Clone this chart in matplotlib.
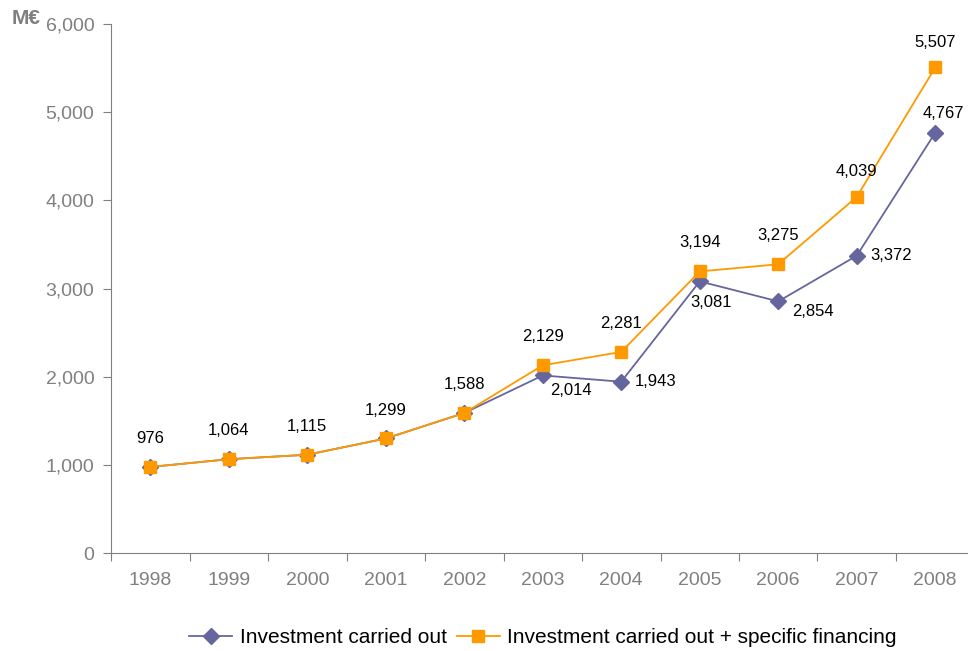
import matplotlib
matplotlib.use("Agg")
import matplotlib.pyplot as plt
from matplotlib.ticker import FuncFormatter, FixedLocator

years = ["1998", "1999", "2000", "2001", "2002", "2003", "2004", "2005", "2006", "2007", "2008"]
invest = [976, 1064, 1115, 1299, 1588, 2014, 1943, 3081, 2854, 3372, 4767]
invest_fin = [976, 1064, 1115, 1299, 1588, 2129, 2281, 3194, 3275, 4039, 5507]

# label offsets in points (dx, dy)
purple_offsets = {5: (20, -11), 6: (25, 0), 7: (8, -15), 8: (25, -7), 9: (25, 0), 10: (6, 14)}
orange_offsets = {9: (0, 18), 10: (0, 18)}

purple = "#66669E"
orange = "#FF9900"
gray = "#808080"

plt.rcParams["font.family"] = ["Liberation Sans", "DejaVu Sans"]

fig = plt.figure(figsize=(9.68, 6.51), dpi=100)
ax = fig.add_axes([0.1147, 0.1505, 0.892, 0.8126])

x = list(range(len(years)))
ax.plot(x, invest, color=purple, marker="D", markersize=8, lw=1.3,
        label="Investment carried out")
ax.plot(x, invest_fin, color=orange, marker="s", markersize=8, lw=1.3,
        label="Investment carried out + specific financing")

fmt = lambda v: f"{v:,}"
for i, v in enumerate(invest_fin):
    ax.annotate(fmt(v), (i, v), xytext=orange_offsets.get(i, (0, 20.5)), textcoords="offset points",
                ha="center", va="center", fontsize=12, color="black")
for i, v in enumerate(invest):
    if i in purple_offsets:
        ax.annotate(fmt(v), (i, v), xytext=purple_offsets[i], textcoords="offset points",
                    ha="center", va="center", fontsize=12, color="black")

ax.set_xlim(-0.5, len(years) - 0.5)
ax.set_ylim(0, 6000)
ax.set_yticks(range(0, 6001, 1000))
ax.yaxis.set_major_formatter(FuncFormatter(lambda v, p: f"{int(v):,}"))
ax.xaxis.set_major_locator(FixedLocator([i - 0.5 for i in range(len(years) + 1)]))
ax.xaxis.set_minor_locator(FixedLocator(x))
ax.set_xticklabels([])
ax.set_xticklabels(years, minor=True)
ax.tick_params(axis="x", which="major", length=6, color=gray, direction="out")
ax.tick_params(axis="x", which="minor", length=0, pad=14, labelsize=14, labelcolor=gray)
ax.tick_params(axis="y", length=6, color=gray, labelsize=14, labelcolor=gray, pad=6)

for s in ["top", "right"]:
    ax.spines[s].set_visible(False)
for s in ["left", "bottom"]:
    ax.spines[s].set_color(gray)

fig.text(0.012, 0.972, "M€", fontsize=15, fontweight="bold", color=gray, ha="left", va="center")

ax.legend(loc="center", bbox_to_anchor=(0.5, -0.16), ncol=2, frameon=False,
          fontsize=15, handlelength=2.07, handletextpad=0.34, columnspacing=0.48)

fig.savefig("out.png", dpi=100)
